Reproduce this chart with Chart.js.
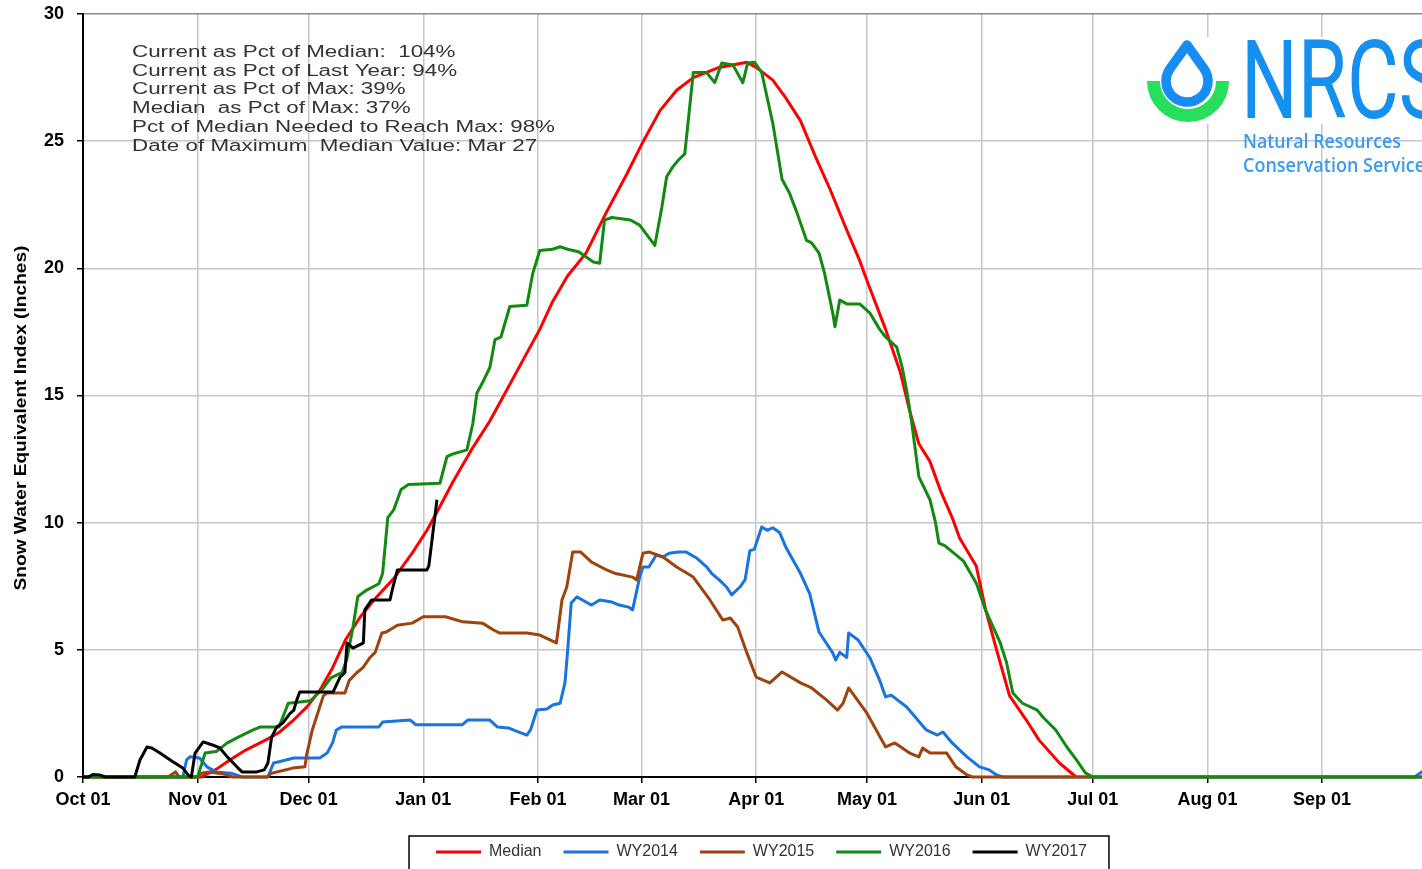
<!DOCTYPE html>
<html>
<head>
<meta charset="utf-8">
<title>Snow Water Equivalent Index</title>
<script src="https://cdn.jsdelivr.net/npm/chart.js@4.4.1/dist/chart.umd.min.js"></script>
<style>
  html, body { margin: 0; padding: 0; background: #fff; overflow: hidden; }
  #wrap { width: 1440px; height: 870px; }
</style>
</head>
<body>
<div id="wrap"><canvas id="swe" width="1440" height="870"></canvas></div>
<script>
// x is day of the water year, Oct 01 = 0
const monthDays = [0, 31, 61, 92, 123, 151, 182, 212, 243, 273, 304, 335];
const monthLabels = ['Oct 01', 'Nov 01', 'Dec 01', 'Jan 01', 'Feb 01', 'Mar 01',
  'Apr 01', 'May 01', 'Jun 01', 'Jul 01', 'Aug 01', 'Sep 01'];

const seriesNames = ['Median', 'WY2014', 'WY2015', 'WY2016', 'WY2017'];
const seriesColors = ['#ff0000', '#1a74e0', '#a0420e', '#128a12', '#000000'];

const median = [[0,0],[32,0],[34,0.15],[36,0.3],[40,0.7],[44,1.06],[50,1.5],[53,1.75],[57,2.25],
  [60.5,2.75],[64,3.4],[67.5,4.3],[71,5.4],[75,6.3],[79.5,7.1],[84,7.8],[89,8.8],[93,9.7],[96,10.5],
  [100,11.6],[105,12.86],[110,14.0],[114.5,15.2],[119,16.4],[123.5,17.6],[127,18.7],[131,19.7],
  [136,20.6],[141.5,22.2],[147,23.7],[151.5,25.0],[156,26.2],[160.5,27.0],[165,27.5],[172,27.9],
  [179.5,28.1],[182,27.9],[186.5,27.4],[190,26.7],[194,25.8],[198,24.4],[202,23.1],[206.5,21.5],
  [210,20.3],[212,19.5],[217,17.6],[221,15.9],[223.5,14.4],[226,13.1],[229,12.4],[232,11.2],
  [235,10.2],[237,9.4],[241.5,8.3],[244,6.6],[247,5.0],[250.5,3.2],[255,2.25],[258.5,1.45],
  [264,0.55],[268.5,0]];

const wy2014 = [[0,0],[27,0],[28,0.67],[29,0.8],[31.5,0.75],[33.5,0.4],[36,0.2],[40,0.15],[43,0],
  [50,0],[51.5,0.55],[53,0.6],[57,0.75],[64,0.75],[66,0.94],[67.5,1.35],[68.5,1.85],[70,1.97],
  [80,1.97],[81,2.16],[88.5,2.24],[90,2.05],[102.5,2.05],[104,2.24],[110,2.24],[112,1.97],
  [115,1.93],[117,1.81],[120,1.65],[121,1.85],[122.7,2.63],[125.4,2.67],[127,2.83],[129,2.9],
  [130.3,3.7],[131,4.9],[132,6.84],[133.5,7.08],[136,6.88],[137.5,6.76],[139.7,6.96],[143,6.88],
  [145,6.76],[147.5,6.68],[148.6,6.57],[150.5,7.86],[151.4,8.26],[153,8.26],[155,8.73],
  [156.8,8.65],[158.5,8.8],[161,8.85],[163,8.85],[166,8.6],[168.6,8.26],[170,8.0],[172,7.75],
  [174,7.47],[175.4,7.16],[177.6,7.47],[179,7.75],[180.3,8.9],[181.5,8.95],[183.5,9.83],
  [185,9.7],[186.5,9.8],[188.4,9.6],[190,9.04],[194,8.0],[196.5,7.2],[199,5.7],[202.7,4.88],
  [203.5,4.6],[204.6,4.9],[206.5,4.7],[207,5.66],[209.5,5.4],[212.7,4.7],[215.4,3.8],[217,3.15],
  [218.5,3.22],[222.7,2.75],[225,2.36],[228,1.85],[231,1.65],[232.5,1.77],[235,1.34],[239,0.79],
  [242.4,0.4],[245,0.28],[247,0.08],[248.6,0],[360,0],[364,0.4]];

const wy2015 = [[0,0],[23,0],[24,0.1],[25,0.2],[26,0],[31,0],[32,0.15],[34,0.2],[38,0.12],
  [40.5,0],[49.7,0],[51,0.15],[56.7,0.35],[60,0.4],[60.5,0.9],[62,1.85],[64,2.75],[65,3.2],
  [66,3.3],[70.8,3.3],[72,3.8],[74,4.1],[75.7,4.3],[77.6,4.7],[79,4.9],[80.8,5.66],[82,5.7],
  [85,5.97],[89,6.05],[92,6.3],[98,6.3],[102.7,6.1],[108,6.05],[111,5.78],[112.7,5.66],
  [120,5.66],[123.5,5.58],[128,5.27],[129.5,6.96],[130.8,7.47],[132.4,8.85],[134.5,8.85],
  [137.5,8.45],[141.6,8.14],[144,8.0],[148.6,7.86],[149.7,7.75],[151.4,8.8],[153,8.85],
  [156.8,8.65],[160.5,8.26],[165,7.86],[169.5,6.96],[173,6.17],[175,6.25],[177,5.9],
  [179.5,4.88],[182,3.93],[185.7,3.7],[189,4.13],[194,3.7],[197,3.5],[201,3.03],[204,2.63],
  [205.5,2.9],[207,3.5],[212,2.5],[217,1.18],[219.5,1.34],[223.5,0.94],[226,0.79],[227,1.14],
  [229,0.94],[233.5,0.94],[236,0.4],[239,0.08],[240.5,0],[364,0]];

const wy2016 = [[0,0],[31,0],[33,0.94],[36,1.0],[39,1.34],[42,1.57],[46,1.85],[48,1.97],[53,1.97],
  [55.5,2.9],[58.6,2.95],[61.5,3.0],[65,3.5],[67,3.9],[70,4.1],[71.3,4.6],[73,5.9],[74.3,7.1],
  [76.7,7.35],[80,7.6],[81,8.0],[82.4,10.2],[84,10.5],[85,10.9],[86,11.3],[88,11.5],[96.5,11.55],
  [98.4,12.6],[100,12.7],[103.8,12.86],[105.4,13.9],[106.5,15.1],[108,15.5],[110,16.1],
  [111.4,17.2],[113,17.3],[115.4,18.5],[120,18.55],[121.6,19.8],[123.5,20.7],[127,20.75],
  [129,20.85],[131,20.75],[134,20.65],[138,20.25],[139.7,20.2],[141,21.9],[143,22.0],[148,21.9],
  [150.5,21.7],[154.6,20.9],[156.5,22.4],[157.8,23.6],[159.5,24.0],[161,24.26],[162.7,24.5],
  [163.5,25.6],[165,27.7],[168.6,27.7],[170.8,27.3],[172.7,28.07],[175.7,28.0],[178.4,27.3],
  [179.7,28.07],[181.6,28.1],[183.5,27.7],[186.5,25.7],[189,23.5],[191,22.96],[193,22.2],
  [195.6,21.1],[197,21.0],[199,20.6],[200.5,19.8],[202.7,18.25],[203.3,17.7],[204.6,18.75],
  [206.5,18.6],[210,18.6],[212.7,18.25],[215.4,17.6],[217,17.3],[220,16.9],[221.5,16.1],
  [222.7,15.2],[224,14.0],[226,11.8],[229,10.9],[230.5,10.0],[231.4,9.2],[233,9.1],[238,8.5],
  [241.6,7.6],[244,6.57],[248,5.27],[249.7,4.5],[251.4,3.3],[254,2.9],[258,2.63],[259.5,2.36],
  [263,1.85],[266,1.18],[268.6,0.67],[271,0.16],[273,0],[364,0]];

const wy2017 = [[0,0],[1.4,0],[2.7,0.1],[4.5,0.08],[6,0],[14,0],[15.4,0.67],[17.3,1.18],
  [18.6,1.14],[20.8,0.94],[24.3,0.6],[27,0.35],[28.4,0.08],[29.3,0],[30.3,0.94],[32.5,1.38],
  [35,1.26],[37,1.14],[39,0.79],[41.6,0.4],[43,0.2],[47,0.2],[49,0.28],[50,0.55],[51,1.57],
  [52.4,1.97],[54,2.12],[56,2.5],[57,2.63],[57.8,3.03],[58.6,3.34],[67.6,3.34],[69.5,3.93],
  [70.8,4.1],[71.4,5.27],[73,5.07],[75.8,5.27],[76.2,6.57],[78,6.96],[83,6.96],[83.8,7.47],
  [85,8.14],[93,8.14],[93.5,8.3],[95.7,10.9]];

const statLines = [
  'Current as Pct of Median:  104%',
  'Current as Pct of Last Year: 94%',
  'Current as Pct of Max: 39%',
  'Median  as Pct of Max: 37%',
  'Pct of Median Needed to Reach Max: 98%',
  'Date of Maximum  Median Value: Mar 27'
];
const yTitle = 'Snow Water Equivalent Index (Inches)';

const seriesData = [median, wy2014, wy2015, wy2016, wy2017];
const toXY = pts => pts.map(p => ({ x: p[0], y: p[1] }));

const datasets = seriesNames.map((name, i) => ({
  label: name,
  data: toXY(seriesData[i]),
  borderColor: seriesColors[i],
  backgroundColor: seriesColors[i],
  borderWidth: 3,
  borderJoinStyle: 'round',
  pointRadius: 0,
  tension: 0,
  fill: false,
  clip: 6,
  order: seriesNames.length - i   // later years drawn on top
}));

const legendPad = 22;

// stats block, axis title, logo and the legend frame
const decorations = {
  id: 'decorations',
  afterLayout(chart) {
    // the legend row sits a little right of the canvas centre
    const lg = chart.legend;
    const top = lg.legendHitBoxes.map(h => h.top);
    lg.left = 90;
    lg.width = lg.right - lg.left;
    if (lg.adjustHitBoxes) {
      lg.adjustHitBoxes();
      lg.legendHitBoxes.forEach((h, i) => { h.top = top[i]; });
    }
  },
  afterDraw(chart) {
    const ctx = chart.ctx;

    ctx.save();
    ctx.font = '16px "Liberation Sans", Arial, sans-serif';
    ctx.fillStyle = '#333';
    ctx.textAlign = 'left';
    ctx.textBaseline = 'alphabetic';
    const sx = 423 / ctx.measureText(statLines[4]).width;
    statLines.forEach((line, i) => {
      ctx.save();
      ctx.translate(132, 57 + i * 18.7);
      ctx.scale(sx, 1);
      ctx.fillText(line, 0, 0);
      ctx.restore();
    });
    ctx.restore();

    ctx.save();
    ctx.font = 'bold 17px "Liberation Sans", Arial, sans-serif';
    ctx.fillStyle = '#000';
    ctx.textAlign = 'center';
    ctx.textBaseline = 'middle';
    const ts = 345 / ctx.measureText(yTitle).width;
    ctx.translate(21, 418);
    ctx.rotate(-Math.PI / 2);
    ctx.scale(ts, 1);
    ctx.fillText(yTitle, 0, 0);
    ctx.restore();

    // NRCS logo
    ctx.save();
    ctx.fillStyle = '#fff';
    ctx.fillRect(1140, 37, 300, 87);
    ctx.beginPath();
    ctx.arc(1188, 81, 34.5, 0, Math.PI);
    ctx.lineWidth = 13;
    ctx.strokeStyle = '#27df5c';
    ctx.stroke();
    const cx = 1187, cy = 81, r = 21, tipY = 45;
    const th = Math.acos(r / (cy - tipY));
    ctx.beginPath();
    ctx.moveTo(cx, tipY);
    ctx.arc(cx, cy, r, -Math.PI / 2 + th, 1.5 * Math.PI - th);
    ctx.closePath();
    ctx.lineWidth = 9.5;
    ctx.lineJoin = 'round';
    ctx.strokeStyle = '#178cf2';
    ctx.stroke();
    ctx.textAlign = 'left';
    ctx.textBaseline = 'alphabetic';
    ctx.fillStyle = '#1590ee';
    ctx.font = '400 110px Roboto, sans-serif';
    ctx.fillText('NRCS', 1241, 118, 205);
    ctx.fillStyle = '#3a9cf0';
    ctx.font = '600 19px "Open Sans", sans-serif';
    ctx.fillText('Natural Resources', 1243, 148, 158);
    ctx.fillText('Conservation Service', 1243, 172, 182);
    ctx.restore();

    // frame round the legend
    const lg = chart.legend;
    const hb = lg.legendHitBoxes;
    if (hb && hb.length) {
      const first = hb[0], last = hb[hb.length - 1];
      const left = first.left - 27;
      const right = last.left + last.width + 22;
      ctx.save();
      ctx.strokeStyle = '#000';
      ctx.lineWidth = 1.5;
      ctx.strokeRect(left, lg.top + legendPad - 8, right - left, 50);
      ctx.restore();
    }
  }
};

const gridGrey = '#c6c6cc';
const tickFont = { family: '"Liberation Sans", Arial, sans-serif', size: 18, weight: 'bold' };

new Chart(document.getElementById('swe'), {
  type: 'line',
  data: { datasets },
  options: {
    responsive: false,
    animation: false,
    devicePixelRatio: 1,
    layout: { padding: { left: 0, top: 14, right: 7, bottom: 0 } },
    plugins: {
      tooltip: { enabled: false },
      legend: {
        position: 'bottom',
        labels: {
          boxWidth: 45,
          boxHeight: 3,
          padding: legendPad,
          color: '#333',
          font: { family: '"Liberation Sans", Arial, sans-serif', size: 16 },
          sort: (a, b) => a.datasetIndex - b.datasetIndex,
          generateLabels: chart =>
            Chart.defaults.plugins.legend.labels.generateLabels(chart)
              .map(item => ({ ...item, lineWidth: 0 }))
        }
      }
    },
    scales: {
      x: {
        type: 'linear',
        min: 0,
        max: 365,
        afterBuildTicks: s => { s.ticks = monthDays.map(v => ({ value: v })); },
        afterFit: s => { s.height = 45; },
        ticks: {
          autoSkip: false,
          maxRotation: 0,
          padding: 6,
          color: '#000',
          font: tickFont,
          callback: (v, i) => monthLabels[i]
        },
        grid: { color: gridGrey, lineWidth: 1.5, tickLength: 6, tickColor: '#000', tickWidth: 1.5 },
        border: { color: '#000', width: 2 }
      },
      y: {
        min: 0,
        max: 30,
        afterFit: s => { s.width = 83; s.paddingTop = 0; s.paddingBottom = 0; },
        ticks: {
          stepSize: 5,
          padding: 13,
          color: '#000',
          font: tickFont
        },
        grid: {
          color: c => (c.tick && c.tick.value === 30 ? '#8c8c8c' : gridGrey),
          lineWidth: 1.5,
          tickLength: 6,
          tickColor: '#000',
          tickWidth: 1.5
        },
        border: { color: '#000', width: 2 }
      }
    }
  },
  plugins: [decorations]
});
</script>
</body>
</html>
